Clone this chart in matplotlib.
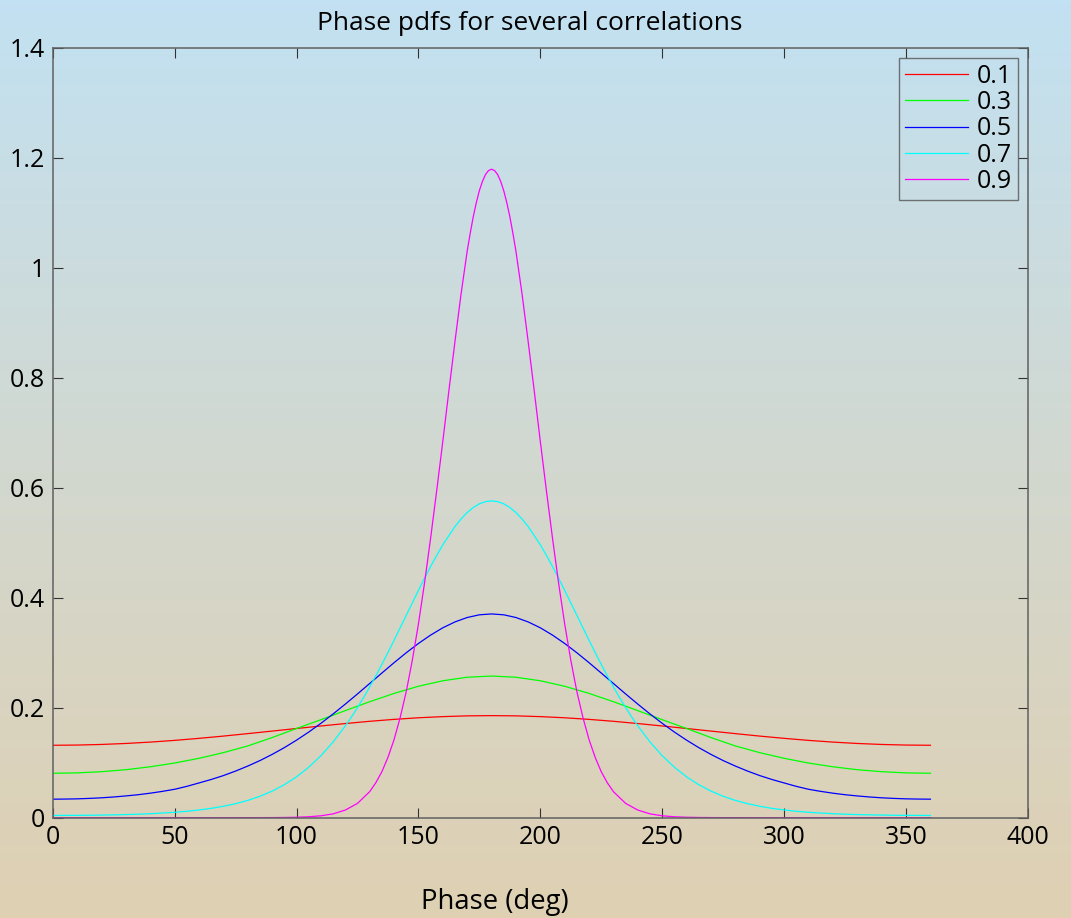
import matplotlib
matplotlib.use('Agg')
import matplotlib.pyplot as plt
import numpy as np
from matplotlib.colors import LinearSegmentedColormap

# phase samples (deg); denser around the peaks of the narrow curves
phase_01 = np.arange(0, 361, 10)
phase_03 = np.arange(0, 361, 10)
phase_05 = np.arange(0, 361, 5)
phase_07 = np.concatenate([np.arange(0, 120, 5), np.arange(120, 242, 2.5), np.arange(245, 361, 5)])
phase_09 = np.concatenate([np.arange(0, 131, 5), np.arange(132.5, 170, 2.5), np.arange(170, 190.1, 1.25),
                           np.arange(192.5, 229, 2.5), np.arange(230, 361, 5)])

# pdf values, one list per correlation
pdf_01 = [0.1316, 0.1320, 0.1331, 0.1349, 0.1374, 0.1405, 0.1442, 0.1483, 0.1528, 0.1574,
          0.1621, 0.1667, 0.1711, 0.1752, 0.1787, 0.1816, 0.1837, 0.1851, 0.1855, 0.1851,
          0.1837, 0.1816, 0.1787, 0.1752, 0.1711, 0.1667, 0.1621, 0.1574, 0.1528, 0.1483,
          0.1442, 0.1405, 0.1374, 0.1349, 0.1331, 0.1320, 0.1316]
pdf_03 = [0.0807, 0.0814, 0.0836, 0.0872, 0.0925, 0.0993, 0.1079, 0.1182, 0.1304, 0.1456,
          0.1621, 0.1781, 0.1946, 0.2108, 0.2259, 0.2389, 0.2489, 0.2553, 0.2575, 0.2553,
          0.2489, 0.2389, 0.2259, 0.2108, 0.1946, 0.1781, 0.1621, 0.1456, 0.1304, 0.1182,
          0.1079, 0.0993, 0.0925, 0.0872, 0.0836, 0.0814, 0.0807]
pdf_05 = [0.0336, 0.0338, 0.0342, 0.0350, 0.0361, 0.0376, 0.0395, 0.0417, 0.0445, 0.0478,
          0.0516, 0.0569, 0.0631, 0.0694, 0.0765, 0.0847, 0.0938, 0.1038, 0.1150, 0.1273,
          0.1409, 0.1556, 0.1715, 0.1885, 0.2064, 0.2249, 0.2439, 0.2629, 0.2817, 0.2998,
          0.3167, 0.3319, 0.3452, 0.3559, 0.3639, 0.3688, 0.3704, 0.3688, 0.3639, 0.3559,
          0.3452, 0.3319, 0.3167, 0.2998, 0.2817, 0.2629, 0.2439, 0.2249, 0.2064, 0.1885,
          0.1715, 0.1556, 0.1409, 0.1273, 0.1150, 0.1038, 0.0938, 0.0847, 0.0765, 0.0694,
          0.0631, 0.0569, 0.0516, 0.0478, 0.0445, 0.0417, 0.0395, 0.0376, 0.0361, 0.0350,
          0.0342, 0.0338, 0.0336]
pdf_07 = [0.0040, 0.0041, 0.0042, 0.0044, 0.0047, 0.0051, 0.0056, 0.0063, 0.0072, 0.0084,
          0.0098, 0.0116, 0.0140, 0.0169, 0.0207, 0.0254, 0.0314, 0.0389, 0.0482, 0.0599,
          0.0742, 0.0917, 0.1126, 0.1376,
          0.1667, 0.1828, 0.2001, 0.2183, 0.2375, 0.2577, 0.2786, 0.3002, 0.3224, 0.3450,
          0.3678, 0.3906, 0.4132, 0.4353, 0.4566, 0.4769, 0.4960, 0.5128, 0.5293, 0.5431,
          0.5547, 0.5639, 0.5706, 0.5746, 0.5760, 0.5746, 0.5706, 0.5639, 0.5547, 0.5431,
          0.5293, 0.5128, 0.4960, 0.4769, 0.4566, 0.4353, 0.4132, 0.3906, 0.3678, 0.3450,
          0.3224, 0.3002, 0.2786, 0.2577, 0.2375, 0.2183, 0.2001, 0.1828, 0.1667,
          0.1376, 0.1126, 0.0917, 0.0742, 0.0599, 0.0482, 0.0389, 0.0314, 0.0254, 0.0207,
          0.0169, 0.0140, 0.0116, 0.0098, 0.0084, 0.0072, 0.0063, 0.0056, 0.0051, 0.0047,
          0.0044, 0.0042, 0.0041, 0.0040]
pdf_09 = [0.0, 0.0, 0.0, 0.0, 0.0, 0.0, 0.0, 0.0, 0.0, 0.0,
          0.0, 0.0, 0.0, 0.0, 0.0, 0.0, 0.00003, 0.00007, 0.00016, 0.00035,
          0.00075, 0.0016, 0.0034, 0.0069, 0.0138, 0.0259, 0.0472,
          0.0633, 0.0834, 0.1096, 0.1417, 0.1817, 0.2290, 0.2863, 0.3520, 0.4264, 0.5080,
          0.5945, 0.6840, 0.7762, 0.8660, 0.9524,
          1.0300, 1.0626, 1.0927, 1.1182, 1.1400, 1.1567, 1.1692, 1.1765, 1.1790,
          1.1765, 1.1692, 1.1567, 1.1400, 1.1182, 1.0927, 1.0626, 1.0300,
          0.9524, 0.8660, 0.7762, 0.6840, 0.5945, 0.5080,
          0.4264, 0.3520, 0.2863, 0.2290, 0.1817, 0.1417, 0.1096, 0.0834, 0.0633,
          0.0472, 0.0259, 0.0138, 0.0069, 0.0034, 0.0016, 0.00075, 0.00035, 0.00016, 0.00007,
          0.00003, 0.0, 0.0, 0.0, 0.0, 0.0, 0.0, 0.0, 0.0, 0.0,
          0.0, 0.0, 0.0, 0.0, 0.0, 0.0, 0.0]

labels = ['0.1', '0.3', '0.5', '0.7', '0.9']
colours = ['#ff0000', '#00ff00', '#0000ff', '#00ffff', '#ff00ff']

x_ticks = [0, 50, 100, 150, 200, 250, 300, 350, 400]
y_ticks = [0, 0.2, 0.4, 0.6, 0.8, 1.0, 1.2, 1.4]
y_tick_labels = ['0', '0.2', '0.4', '0.6', '0.8', '1', '1.2', '1.4']

plt.rcParams['font.family'] = ['Open Sans', 'DejaVu Sans']

fig = plt.figure(figsize=(10.71, 9.18), dpi=100)

# gradient background behind everything
bg = fig.add_axes([0, 0, 1, 1], zorder=0)
grad = np.linspace(0, 1, 256).reshape(-1, 1)
cmap = LinearSegmentedColormap.from_list('bg', ['#c2e1f2', '#d2d8d0', '#dfd0b2'])
bg.imshow(grad, aspect='auto', cmap=cmap, extent=[0, 1, 0, 1], origin='upper')
bg.axis('off')

ax = fig.add_axes([0.0492, 0.1093, 0.9106, 0.8388], zorder=1)
ax.patch.set_alpha(0)

series = [(phase_01, pdf_01), (phase_03, pdf_03), (phase_05, pdf_05),
          (phase_07, pdf_07), (phase_09, pdf_09)]
for (xs, ys), col, lab in zip(series, colours, labels):
    ax.plot(xs, ys, color=col, lw=0.9, label=lab)

ax.set_xlim(0, 400)
ax.set_ylim(0, 1.4)
ax.set_xticks(x_ticks)
ax.set_xticklabels([str(t) for t in x_ticks])
ax.set_yticks(y_ticks)
ax.set_yticklabels(y_tick_labels)
ax.tick_params(direction='in', top=True, right=True, length=7, width=0.8,
               colors='#333333', labelcolor='black', labelsize=18)
ax.tick_params(axis='y', pad=5.5)
ax.tick_params(axis='x', pad=5)
for sp in ax.spines.values():
    sp.set_color('#606060')
    sp.set_linewidth(1.1)

leg = ax.legend(loc='upper right', fontsize=18, frameon=True, fancybox=False,
                handlelength=2.5, handletextpad=0.35, labelspacing=0.05,
                borderpad=0.25, borderaxespad=0.4)
leg.get_frame().set_facecolor('none')
leg.get_frame().set_edgecolor('#555555')
leg.get_frame().set_linewidth(1.0)

fig.text(530 / 1071, 1 - 30 / 918, 'Phase pdfs for several correlations',
         ha='center', va='baseline', fontsize=19)
fig.text(495 / 1071, 1 - 909 / 918, 'Phase (deg)',
         ha='center', va='baseline', fontsize=19.8)

fig.savefig('out.png', dpi=100)
